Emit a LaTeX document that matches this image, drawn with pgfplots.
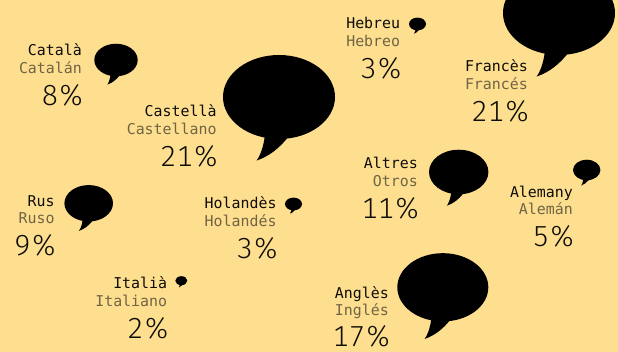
\documentclass[border=0pt]{standalone}
\usepackage{pgfplots}
\usepackage{pgfplotstable}
\usepackage{fontspec}
\pgfplotsset{compat=1.18}
\setmainfont{DejaVu Sans Mono}
\newfontfamily\pctfont[Numbers={Lining,Monospaced}]{Fira Sans Light}
\definecolor{bg}{RGB}{254,223,144}
\definecolor{ink}{RGB}{15,13,8}
\definecolor{sub}{RGB}{112,100,68}
\pgfdeclareplotmark{speech}{%
  \pgfpathellipse{\pgfpointorigin}{\pgfqpoint{\pgfplotmarksize}{0pt}}{\pgfqpoint{0pt}{0.75\pgfplotmarksize}}%
  \pgfusepathqfill
  \pgfpathmoveto{\pgfqpoint{-0.25\pgfplotmarksize}{-0.68\pgfplotmarksize}}%
  \pgfpathlineto{\pgfqpoint{-0.27\pgfplotmarksize}{-0.80\pgfplotmarksize}}%
  \pgfpathcurveto{\pgfqpoint{-0.30\pgfplotmarksize}{-0.95\pgfplotmarksize}}{\pgfqpoint{-0.35\pgfplotmarksize}{-1.07\pgfplotmarksize}}{\pgfqpoint{-0.40\pgfplotmarksize}{-1.135\pgfplotmarksize}}%
  \pgfpathcurveto{\pgfqpoint{-0.18\pgfplotmarksize}{-1.06\pgfplotmarksize}}{\pgfqpoint{0.00\pgfplotmarksize}{-0.92\pgfplotmarksize}}{\pgfqpoint{0.16\pgfplotmarksize}{-0.72\pgfplotmarksize}}%
  \pgfpathclose
  \pgfusepathqfill
}
\pgfplotstableread{
x y r
116 60 21.7
279 97 56
417.5 24 8.5
559 13 56
458.7 172 29.7
586.7 170 13.7
88.7 203.3 24.3
293.5 204 8.5
181.3 280.7 6
442.8 287.3 45.5
}\bubbles
\newcommand{\lbl}[7]{%
  \node[anchor=base east,inner sep=0pt,yshift=-0.5pt,text=ink,font=\fontsize{14.9}{18}\selectfont] at (axis cs:#1,#2) {#3};
  \node[anchor=base east,inner sep=0pt,yshift=-0.5pt,text=sub,font=\fontsize{14.9}{18}\selectfont] at (axis cs:#1,#4) {#5};
  \node[anchor=base east,inner sep=0pt,xshift=2.5pt,text depth=0pt,text=ink,font=\fontsize{29}{34}\pctfont] at (axis cs:#1,#6) {#7\%};
}
\begin{document}
\begin{tikzpicture}
\path[use as bounding box] (0,0) rectangle (618pt,352pt);
\begin{axis}[
  at={(0,0)},anchor=south west,
  width=618pt,height=352pt,scale only axis,
  xmin=0,xmax=618,ymin=0,ymax=352,y dir=reverse,
  axis line style={draw=none},ticks=none,
  axis background/.style={fill=bg},
  clip=true,clip mode=global,
]
\addplot[scatter,only marks,mark=speech,
  scatter/use mapped color={draw=none,fill=black},
  visualization depends on={\thisrow{r} \as \perpointmarksize},
  scatter/@pre marker code/.append style={/tikz/mark size=\perpointmarksize},
] table[x=x,y=y] {\bubbles};
\lbl{82}{55}{Català}{73.3}{Catalán}{106}{8}
\lbl{216.7}{115.7}{Castellà}{134}{Castellano}{166.7}{21}
\lbl{400.3}{28.3}{Hebreu}{46}{Hebreo}{79}{3}
\lbl{528}{71}{Francès}{89.3}{Francés}{121.7}{21}
\lbl{418}{167.7}{Altres}{186}{Otros}{218.7}{11}
\lbl{573}{196.7}{Alemany}{213.7}{Alemán}{247}{5}
\lbl{54.7}{206}{Rus}{223.3}{Ruso}{256}{9}
\lbl{276.7}{208}{Holandès}{226}{Holandés}{258.7}{3}
\lbl{167.3}{287.7}{Italià}{306}{Italiano}{338.7}{2}
\lbl{389}{297.7}{Anglès}{315}{Inglés}{346.8}{17}
\end{axis}
\end{tikzpicture}
\end{document}
